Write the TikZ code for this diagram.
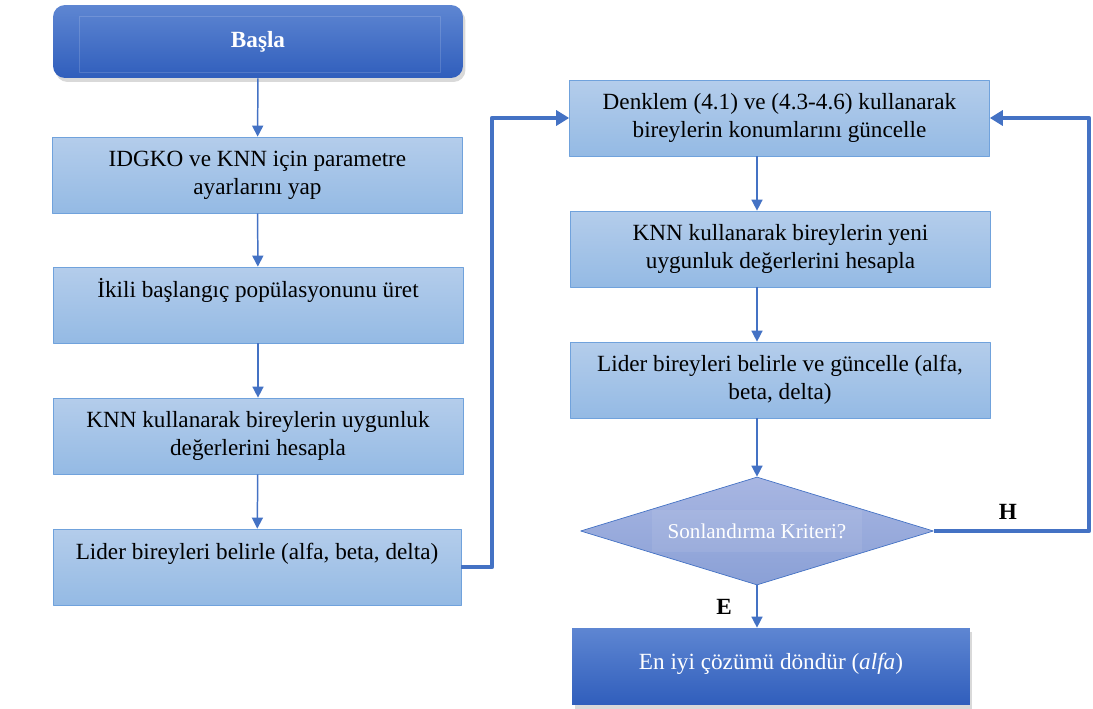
\documentclass[tikz,border=0pt]{standalone}
\usepackage{fontspec}
\setmainfont{Liberation Serif}
\usepackage{xcolor}
\usepackage{tikz}
\usetikzlibrary{arrows.meta,shapes.geometric,shadows}

\definecolor{boxtop}{RGB}{180,205,235}
\definecolor{boxbot}{RGB}{148,186,228}
\definecolor{boxline}{RGB}{112,162,220}
\definecolor{darktop}{RGB}{94,134,210}
\definecolor{darkbot}{RGB}{48,94,188}
\definecolor{dectop}{RGB}{168,182,226}
\definecolor{decbot}{RGB}{138,160,214}
\definecolor{flowblue}{RGB}{68,114,196}

\begin{document}
\begin{tikzpicture}[x=0.02cm, y=-0.02cm, line join = round,
        stepbox/.style={draw=boxline, top color=boxtop, bottom color=boxbot,
            minimum width=8.2cm, minimum height=1.52cm, inner sep=0pt,
            align=center, font=\fontsize{13.2}{16}\selectfont},
        widebox/.style={stepbox, minimum width=8.4cm},
        upper/.style={text height=9pt, text depth=17pt},
        darkbox/.style={draw=none, top color=darktop, bottom color=darkbot,
            text=white, inner sep=0pt, font=\fontsize{13.2}{16}\selectfont,
            drop shadow={shadow xshift=0.05cm, shadow yshift=-0.08cm, opacity=0.3}},
        decision/.style={diamond, draw=flowblue, top color=dectop, bottom color=decbot,
            minimum width=7.06cm, minimum height=2.16cm, inner sep=0pt, aspect=3.3},
        flow/.style={draw=flowblue, line width=0.85pt,
            -{Triangle[length=0.22cm,width=0.22cm]}},
        loop/.style={draw=flowblue, line width=2.7pt,
            -{Triangle[length=0.26cm,width=0.3cm]}}]

                        \useasboundingbox (0,0) rectangle (1093,709);

                        % left column
                        \node [darkbox, rounded corners=0.24cm, minimum width=8.2cm,
                            minimum height=1.46cm, font=\fontsize{13.2}{16}\selectfont\bfseries]
                            (start) at (258,41.5) {Başla};
                        \draw [white, opacity=.15]
                            ([xshift=0.54cm,yshift=-0.24cm]start.north west) rectangle
                            ([xshift=-0.46cm,yshift=0.12cm]start.south east);
                        \node [stepbox] (param) at (257.5,175)
                            {IDGKO ve KNN için parametre\\ayarlarını yap};
                        \node [stepbox, upper] (init) at (258,305)
                            {İkili başlangıç popülasyonunu üret};
                        \node [stepbox] (fit) at (258,436)
                            {KNN kullanarak bireylerin uygunluk\\değerlerini hesapla};
                        \node [stepbox, upper, minimum width=8.16cm] (lead) at (257,567)
                            {Lider bireyleri belirle (alfa, beta, delta)};

                        % right column
                        \node [widebox] (upd) at (779.5,118)
                            {Denklem (4.1) ve (4.3-4.6) kullanarak\\bireylerin konumlarını güncelle};
                        \node [widebox] (refit) at (780.5,249)
                            {KNN kullanarak bireylerin yeni\\uygunluk değerlerini hesapla};
                        \node [widebox] (lead2) at (780,380)
                            {Lider bireyleri belirle ve güncelle (alfa,\\beta, delta)};
                        \node [decision] (check) at (757,531) {};
                        \node [fill=white, fill opacity=.08, text opacity=1, text=white,
                            minimum width=4.2cm, minimum height=0.84cm, inner sep=0pt,
                            font=\fontsize{12}{14}\selectfont]
                            (checktext) at (check) {Sonlandırma Kriteri?};
                        \node [darkbox, minimum width=7.96cm, minimum height=1.54cm,
                            text height=9pt, text depth=6pt]
                            (result) at (771,666.5) {En iyi çözümü döndür (\textit{alfa})};

                        % loop bends
                        \coordinate (loopL) at (492,0);
                        \coordinate (loopR) at (1089,0);

                        % connectors
                        \draw [flow] (start) -- (param);
                        \draw [flow] (param) -- (init);
                        \draw [flow] (init) -- (fit);
                        \draw [flow] (fit) -- (lead);
                        \draw [loop] (lead.east) -- (lead.east -| loopL) |- (upd.west);
                        \draw [flow] (upd.south -| check) -- (refit.north -| check);
                        \draw [flow] (refit.south -| check) -- (lead2.north -| check);
                        \draw [flow] (lead2.south -| check) -- (check.north);
                        \draw [flow] (check.south) -- (result.north -| check);
                        \draw [loop] (check.east) -- (check.east -| loopR) |- (upd.east);

                        % answers
                        \node [font=\fontsize{13.2}{16}\selectfont\bfseries] (yes) at (724,607) {E};
                        \node [font=\fontsize{13.2}{16}\selectfont\bfseries] (no) at (1008,512) {H};

                    \end{tikzpicture}
\end{document}
